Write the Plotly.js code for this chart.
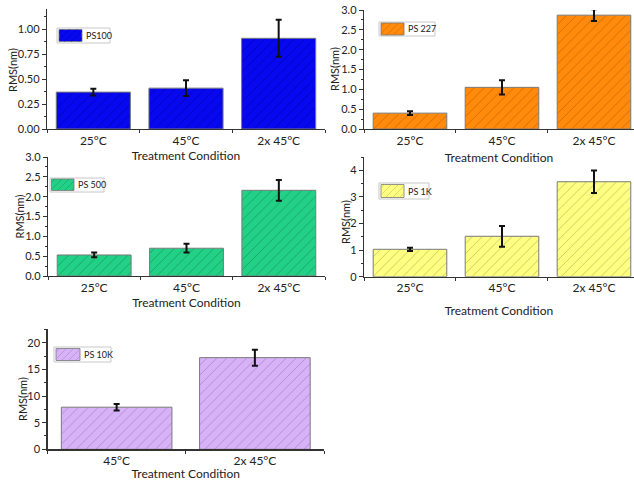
<!DOCTYPE html>
<html>
<head>
<meta charset="utf-8">
<script src="https://cdn.plot.ly/plotly-3.0.1.min.js"></script>
<style>
  html, body { margin: 0; padding: 0; background: #fff; }
  #chart { width: 634px; height: 481px; }
</style>
</head>
<body>
<div id="chart"></div>
<script>
// Surface roughness (RMS) of polystyrene films after each treatment
const conditions3 = ['25°C', '45°C', '2x 45°C'];
const conditions2 = ['45°C', '2x 45°C'];

const ps100 = [0.37, 0.41, 0.91];
const ps100Err = [0.035, 0.08, 0.185];

const ps227 = [0.40, 1.05, 2.87];
const ps227Err = [0.05, 0.18, 0.15];

const ps500 = [0.53, 0.70, 2.16];
const ps500Err = [0.06, 0.11, 0.26];

const ps1k = [1.03, 1.52, 3.57];
const ps1kErr = [0.06, 0.39, 0.42];

const ps10k = [7.9, 17.2];
const ps10kErr = [0.6, 1.5];

const seriesNames = ['PS100', 'PS 227', 'PS 500', 'PS 1K', 'PS 10K'];

// ---- page geometry helpers (pixel -> paper fraction) ----
const W = 634, H = 481;
const px = x => x / W;
const py = y => 1 - y / H;

const FONT = 'Lato, "Open Sans", "Liberation Sans", sans-serif';
const INK = '#222';

const styles = [
  { fill: '#0808f0', hatch: '#0000b4' },
  { fill: '#ff8a0c', hatch: '#d06a00' },
  { fill: '#22d086', hatch: '#16a066' },
  { fill: '#ffff82', hatch: '#c4c45a' },
  { fill: '#d8b2f6', hatch: '#ab88cc' }
];

function barTrace(i, cats, vals, errs, xa, ya) {
  return {
    type: 'bar',
    name: seriesNames[i],
    x: cats,
    y: vals,
    xaxis: xa,
    yaxis: ya,
    width: 0.8,
    showlegend: false,
    marker: {
      color: styles[i].fill,
      line: { color: '#7a7a7a', width: 1 },
      pattern: { shape: '/', fgcolor: styles[i].hatch, bgcolor: styles[i].fill, size: 7, solidity: 0.12 }
    },
    error_y: { type: 'data', array: errs, visible: true, color: '#111', thickness: 2, width: 3 },
    hoverinfo: 'x+y'
  };
}

const data = [
  barTrace(0, conditions3, ps100, ps100Err, 'x', 'y'),
  barTrace(1, conditions3, ps227, ps227Err, 'x2', 'y2'),
  barTrace(2, conditions3, ps500, ps500Err, 'x3', 'y3'),
  barTrace(3, conditions3, ps1k, ps1kErr, 'x4', 'y4'),
  barTrace(4, conditions2, ps10k, ps10kErr, 'x5', 'y5')
];

function xAxis(left, right, range, anchor, standoff) {
  return {
    domain: [px(left), px(right)],
    anchor: anchor,
    type: 'category',
    range: range,
    showline: true, linecolor: '#333', linewidth: 1.2,
    ticks: 'outside', tickson: 'boundaries', ticklen: 3, tickcolor: '#333',
    showgrid: false, zeroline: false,
    tickfont: { family: FONT, size: 12, color: INK },
    title: { text: 'Treatment Condition', font: { family: FONT, size: 12, color: INK }, standoff: standoff },
    fixedrange: true
  };
}

function yAxis(top, bottom, range, dtick, fmt, anchor) {
  return {
    domain: [py(bottom), py(top)],
    anchor: anchor,
    range: range,
    dtick: dtick,
    tick0: 0,
    tickformat: fmt,
    showline: true, linecolor: '#333', linewidth: 1.2,
    ticks: 'outside', ticklen: 4, tickcolor: '#333',
    minor: { ticks: 'outside', ticklen: 2, dtick: dtick / 2, tickcolor: '#333' },
    showgrid: false, zeroline: false,
    tickfont: { family: FONT, size: 11, color: INK },
    fixedrange: true
  };
}

// y-axis titles, placed beside each panel's tick labels: [centreX, centreY] in pixels
const yTitlePos = [[12, 70], [335, 69], [19.5, 217], [345, 222], [22, 399]];

// legend boxes: [boxX0, boxY0, boxX1, boxY1, swX0, swY0, swX1, swY1] in pixels
const legendBoxes = [
  [57, 28, 110, 43, 59, 29.5, 82, 41.5],
  [379, 22, 435, 36, 381, 23, 404, 35],
  [50, 178, 104, 192, 51.5, 179, 74, 190.5],
  [379, 183, 429, 199, 381, 184.5, 404, 197.5],
  [54, 347, 111, 362, 56, 348.5, 80, 360.5]
];

function hatchPath(x0, y0, x1, y1, step) {
  let d = '';
  for (let c = x0 + y0 + step / 2; c < x1 + y1; c += step) {
    const xa = Math.max(x0, c - y1);
    const xb = Math.min(x1, c - y0);
    if (xb <= xa) continue;
    d += 'M' + px(xa).toFixed(5) + ',' + py(c - xa).toFixed(5) +
         'L' + px(xb).toFixed(5) + ',' + py(c - xb).toFixed(5);
  }
  return d;
}

const shapes = [];
const annotations = [];
legendBoxes.forEach((b, i) => {
  shapes.push({ type: 'rect', xref: 'paper', yref: 'paper',
    x0: px(b[0]), x1: px(b[2]), y0: py(b[3]), y1: py(b[1]),
    fillcolor: '#fff', line: { color: '#c8c8c8', width: 1 } });
  shapes.push({ type: 'rect', xref: 'paper', yref: 'paper',
    x0: px(b[4]), x1: px(b[6]), y0: py(b[7]), y1: py(b[5]),
    fillcolor: styles[i].fill, line: { color: '#777', width: 0.8 } });
  shapes.push({ type: 'path', xref: 'paper', yref: 'paper',
    path: hatchPath(b[4], b[5], b[6], b[7], 7),
    line: { color: styles[i].hatch, width: 0.6 } });
  annotations.push({ xref: 'paper', yref: 'paper', x: px(b[6] + 2), y: py((b[1] + b[3]) / 2),
    xanchor: 'left', yanchor: 'middle', showarrow: false, text: seriesNames[i],
    font: { family: FONT, size: 9, color: INK } });
});

yTitlePos.forEach(p => {
  annotations.push({ xref: 'paper', yref: 'paper', x: px(p[0]), y: py(p[1]),
    xanchor: 'center', yanchor: 'middle', textangle: -90, showarrow: false,
    text: 'RMS(nm)', font: { family: FONT, size: 11, color: INK } });
});

const layout = {
  width: W, height: H,
  margin: { l: 0, r: 0, t: 0, b: 0 },
  paper_bgcolor: '#fff', plot_bgcolor: 'rgba(0,0,0,0)',
  bargap: 0.2,
  font: { family: FONT, color: INK },
  xaxis: xAxis(47, 325, [-0.5, 2.5], 'y', 4),
  yaxis: yAxis(9.4, 129, [0, 1.2], 0.25, '.2f', 'x'),
  xaxis2: xAxis(364, 634, [-0.5, 2.435], 'y2', 7),
  yaxis2: yAxis(10, 129, [0, 3], 0.5, '.1f', 'x2'),
  xaxis3: xAxis(48, 325, [-0.5, 2.5], 'y3', 1),
  yaxis3: yAxis(157, 276, [0, 3], 0.5, '.1f', 'x3'),
  xaxis4: xAxis(364, 634, [-0.5, 2.435], 'y4', 12),
  yaxis4: yAxis(157, 276.7, [0, 4.5], 1, 'd', 'x4'),
  xaxis5: xAxis(47.5, 324, [-0.5, 1.5], 'y5', 9),
  yaxis5: yAxis(329.4, 449.3, [0, 22.5], 5, 'd', 'x5'),
  shapes: shapes,
  annotations: annotations
};

Plotly.newPlot('chart', data, layout, { displayModeBar: false, staticPlot: true });
</script>
</body>
</html>
